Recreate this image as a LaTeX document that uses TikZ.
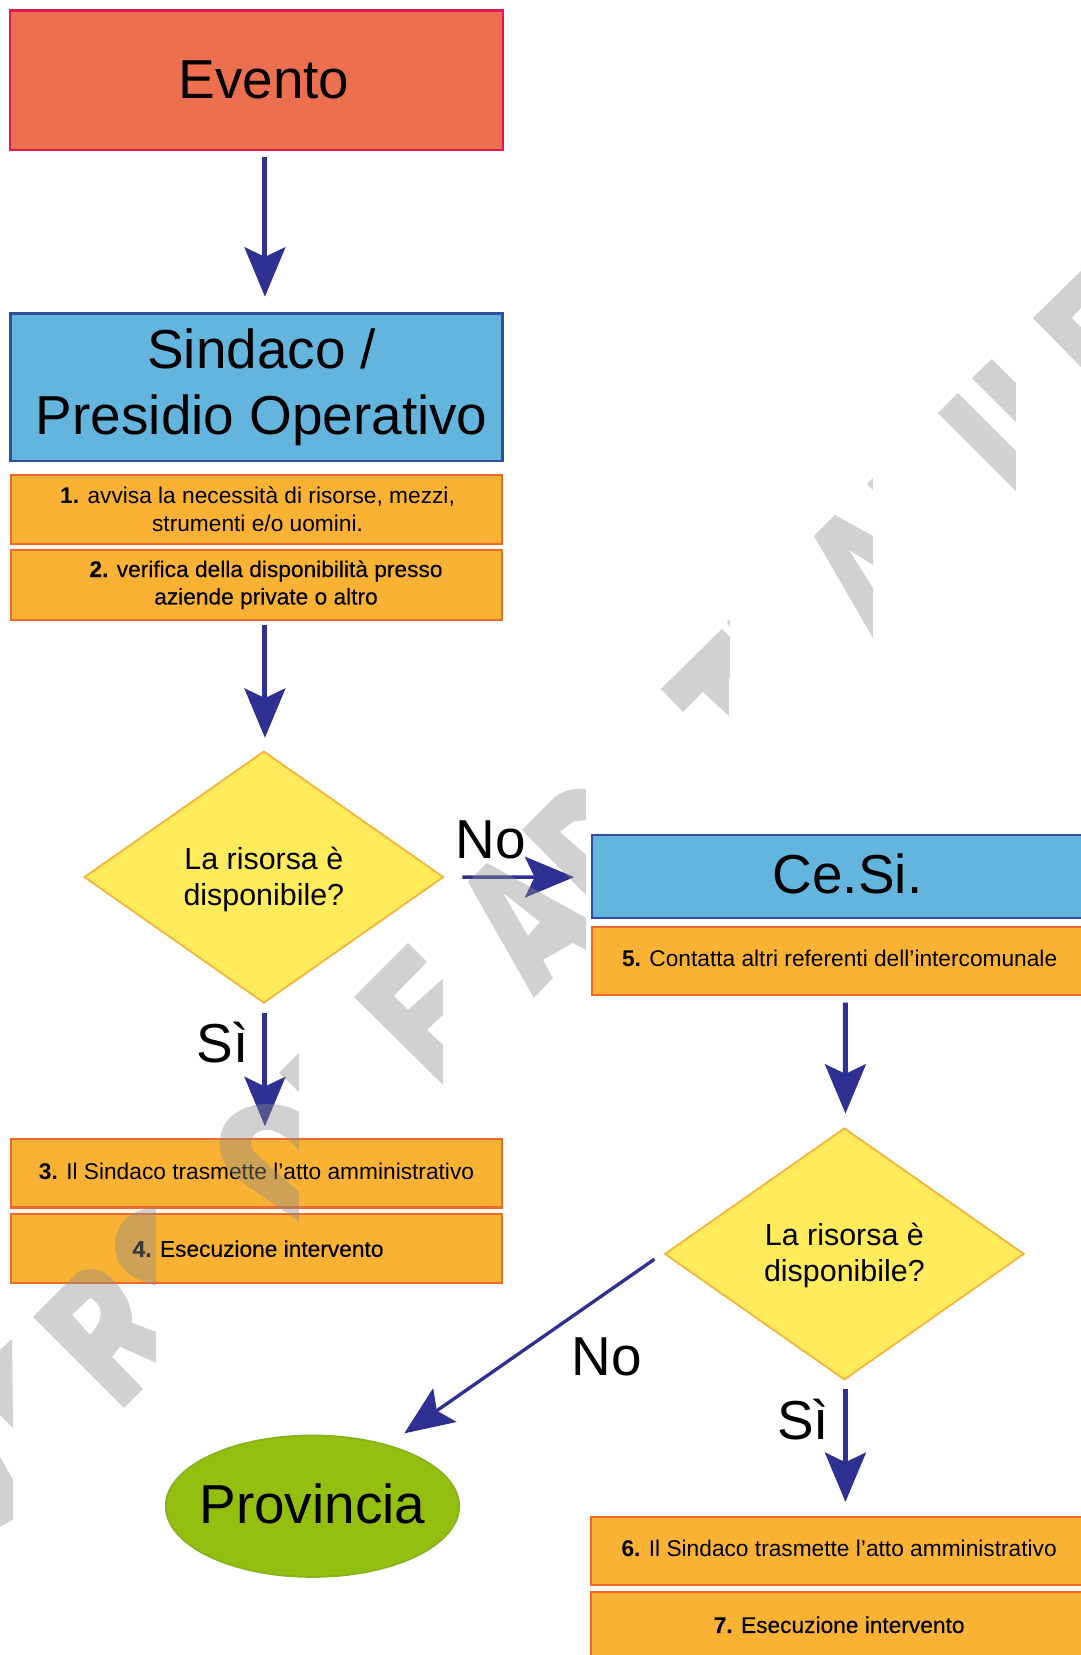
\documentclass[tikz,border=0pt]{standalone}
\usepackage{fontspec}
\setmainfont{Liberation Sans}
\usetikzlibrary{shapes.geometric,arrows.meta}
\definecolor{arrowblue}{HTML}{2E3192}
\definecolor{boxblue}{HTML}{64B5DD}
\definecolor{edgeblue}{HTML}{2F4EA0}
\definecolor{boxorange}{HTML}{F9B233}
\definecolor{edgeorange}{HTML}{EE6A2C}
\definecolor{boxyellow}{HTML}{FFEB5B}
\definecolor{edgeyellow}{HTML}{F6B53B}
\definecolor{boxred}{HTML}{EC7050}
\definecolor{edgered}{HTML}{E5174E}
\definecolor{boxgreen}{HTML}{94BF10}
\definecolor{edgegreen}{HTML}{86B41C}
\newcommand{\fbig}{\fontsize{29.6pt}{35.8pt}\selectfont}
\newcommand{\fmid}{\fontsize{16.4pt}{19.4pt}\selectfont}
\newcommand{\fsmall}{\fontsize{12.25pt}{14.8pt}\selectfont}
\newcommand{\heavy}{\addfontfeature{FakeBold=0.35}}
\newcommand{\lift}{\rule[-2.5pt]{0pt}{1pt}}
\newcommand{\sink}{\rule{0pt}{14.6pt}}
\tikzset{
  every node/.style={inner sep=0pt,outer sep=0pt,align=center,text=black},
  redbox/.style={rectangle,draw=edgered,fill=boxred,line width=1.3pt,font=\fbig},
  bluebox/.style={rectangle,draw=edgeblue,fill=boxblue,line width=1.3pt,font=\fbig},
  orangebox/.style={rectangle,draw=edgeorange,fill=boxorange,line width=1.1pt,font=\fsmall},
  question/.style={diamond,draw=edgeyellow,fill=boxyellow,line width=1pt,shape aspect=1.4286,
     minimum width=6.8cm,minimum height=4.76cm,font=\fmid},
  oval/.style={ellipse,draw=edgegreen,fill=boxgreen,line width=1pt,font=\fbig},
  tag/.style={font=\fbig},
  arr/.style={draw=arrowblue,line width=2.7pt,-{Stealth[length=26.6pt,width=22pt,inset=5.2pt,color=arrowblue]}},
  thinarr/.style={draw=arrowblue,line width=1.8pt,-{Stealth[length=26.6pt,width=22pt,inset=5.2pt,color=arrowblue]}},
  mark gray/.style={fill=black!45,opacity=.4,even odd rule}
}
\begin{document}
\begin{tikzpicture}[x=0.02cm,y=-0.02cm]
\useasboundingbox (0,0) rectangle (1024,1568);
\clip (0,0) rectangle (1024,1568);

\node[redbox,minimum width=9.34cm,minimum height=2.64cm] (evento) at (243,76) {\hspace*{0.28cm}Evento};
\node[bluebox,minimum width=9.32cm,minimum height=2.8cm] (sindaco) at (243,367) {\hspace*{0.2cm}Sindaco /\\\hspace*{0.2cm}Presidio Operativo};
\node[orangebox,minimum width=9.32cm,minimum height=1.3cm] (item1) at (243,482.5) {\hspace*{0.04cm}\textbf{1.} avvisa la necessità di risorse, mezzi,\\\hspace*{0.04cm}strumenti e/o uomini.};
\node[orangebox,minimum width=9.32cm,minimum height=1.32cm] (item2) at (243,554) {\heavy\hspace*{0.36cm}\textbf{2.} verifica della disponibilità presso\\\heavy\hspace*{0.36cm}aziende private o altro};
\node[question] (d1) at (250,831) {\sink La risorsa è\\disponibile?};
\node[bluebox,minimum width=9.38cm,minimum height=1.58cm] (cesi) at (795.5,830.5) {\hspace*{0.3cm}Ce.Si.\rule[-3.2pt]{0pt}{1pt}};
\node[orangebox,minimum width=9.38cm,minimum height=1.3cm] (item5) at (795.5,910.5) {\textbf{5.} Contatta altri referenti dell’intercomunale\lift};
\node[orangebox,minimum width=9.32cm,minimum height=1.3cm] (item3) at (243,1111.5) {\textbf{3.} Il Sindaco trasmette l’atto amministrativo\lift};
\node[orangebox,minimum width=9.32cm,minimum height=1.32cm] (item4) at (243,1183) {\heavy\hspace*{0.06cm}\textbf{4.} Esecuzione intervento};
\node[question] (d2) at (800,1188) {\rule{0pt}{13.4pt}La risorsa è\\disponibile?};
\node[oval,minimum width=5.56cm,minimum height=2.68cm] (prov) at (296,1427) {\makebox[0pt]{Provincia}\lift};
\node[orangebox,minimum width=9.4cm,minimum height=1.3cm] (item6) at (795,1469.5) {\textbf{6.} Il Sindaco trasmette l’atto amministrativo\lift};
\node[orangebox,minimum width=9.4cm,minimum height=1.34cm] (item7) at (795,1541.5) {\heavy\textbf{7.} Esecuzione intervento\lift};

\node[tag] (no1) at (465,796) {No};
\node[tag] (si1) at (211,988) {Sì};
\node[tag] (no2) at (575,1286) {No};
\node[tag] (si2) at (761,1345) {Sì};

\draw[arr] ([shift={(8,7)}]evento.south) -- ([shift={(8,-16)}]sindaco.north);
\draw[arr] ([shift={(8,5)}]item2.south) -- ([shift={(1,-13)}]d1.north);
\draw[arr] ([shift={(1,10)}]d1.south) -- ([shift={(8,-12)}]item3.north);
\draw[thinarr] ([shift={(18,0)}]d1.east) -- ([shift={(-17,0.5)}]cesi.west);
\draw[arr] ([shift={(5.5,7)}]item5.south) -- ([shift={(1,-14)}]d2.north);
\draw[thinarr] ([shift={(-10,5)}]d2.west) -- ([shift={(87,-69)}]prov.center);
\draw[arr] ([shift={(1,9)}]d2.south) -- ([shift={(6,-14)}]item6.north);

% watermark letters, in reference pixels
\begin{scope}[scale=0.9473]
\fill[mark gray] (1033,318)--(1081,271)--(1081,308)--(1072,318)--(1081,327)--(1081,367)--cycle;
\fill[mark gray] (972,378)--(992,359)--(1016,383)--(1016,422)--cycle;
\fill[mark gray] (938,413)--(958,393)--(1016,451)--(1016,491)--cycle;
\fill[mark gray] (867,484)--(873,478)--(873,490)--cycle;
\fill[mark gray] (814,536)--(835,515)--(873,536)--(873,565)--(849,550)--(873,588)--(873,638)--cycle;
\fill[mark gray] (727,622)--(730,620)--(730,627)--cycle;
\fill[mark gray] (661,689)--(722,629)--(730,637)--(730,678)--(724,672)--(729,678)--(729,716)--(703,692)--(683,712)--cycle;
\fill[mark gray] (522,830)--(555,797) .. controls (565,790) and (575,788) .. (586,789)--(586,820)--(573,822)--(560,832)--(586,855)--(586,895)--cycle;
\fill[mark gray] (468,882)--(487,863)--(586,918)--(586,950)--(573,943)--(543,960)--(553,978)--(534,998)--cycle
  (503,893)--(540,922)--(528,936)--cycle;
\fill[mark gray] (354,997)--(408,943)--(427,962)--(394,996)--(408,1010)--(443,979)--(443,1015)--(427,1030)--(443,1045)--(443,1085)--cycle;
\fill[mark gray] (279,1073)--(299,1053)--(299,1092)--cycle;
\fill[mark gray] (299,1112) .. controls (270,1095) and (220,1105) .. (220,1143) .. controls (220,1160) and (228,1170) .. (235,1177) -- (299,1222)--(299,1192)--(257,1155) .. controls (245,1143) and (252,1130) .. (268,1130) .. controls (278,1130) and (290,1140) .. (299,1150) -- cycle;
\fill[mark gray] (156,1208) .. controls (130,1208) and (115,1225) .. (115,1246) .. controls (115,1270) and (135,1280) .. (156,1286) -- cycle;
\fill[mark gray] (33,1317)--(78,1272) .. controls (90,1266) and (105,1270) .. (115,1282) .. controls (127,1295) and (133,1310) .. (132,1323)--(156,1332)--(156,1363)--(120,1347)--(112,1357)--(143,1389)--(124,1408)--cycle
  (72,1315)--(90,1298) .. controls (100,1303) and (108,1315) .. (90,1335)--cycle;
\fill[mark gray] (0,1350)--(12,1339)--(13,1428)--(0,1415)--cycle;
\fill[mark gray] (0,1457)--(13,1480)--(13,1520)--(0,1527)--cycle;
\end{scope}
\end{tikzpicture}
\end{document}
